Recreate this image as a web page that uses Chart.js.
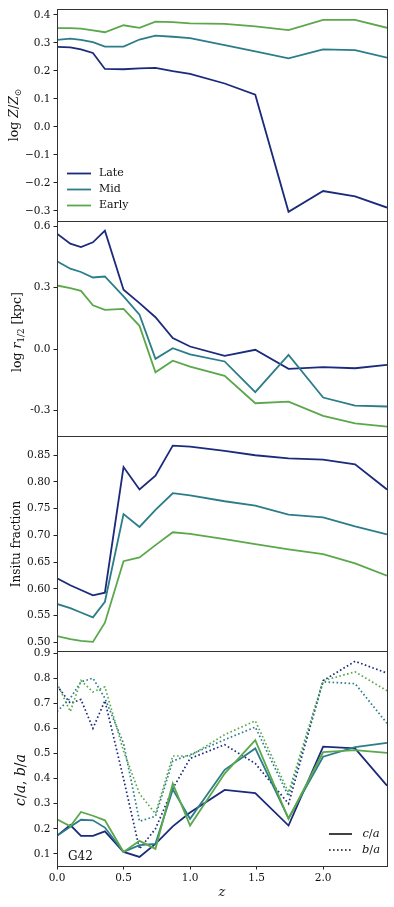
<!DOCTYPE html>
<html>
<head>
<meta charset="utf-8">
<script src="https://cdn.jsdelivr.net/npm/chart.js@4.4.1/dist/chart.umd.min.js"></script>
<style>
  body { margin: 0; background: #fff; }
  #wrap { position: relative; width: 394px; height: 907px; }
  #wrap canvas { position: absolute; left: 0; top: 0; }
</style>
</head>
<body>
<div id="wrap">
  <canvas id="p1" width="394" height="907"></canvas>
  <canvas id="p2" width="394" height="907"></canvas>
  <canvas id="p3" width="394" height="907"></canvas>
  <canvas id="p4" width="394" height="907"></canvas>
</div>
<script>
// redshift snapshots
const zSnap = [0, 0.1, 0.18, 0.27, 0.36, 0.5, 0.62, 0.74, 0.87, 1.0, 1.26, 1.49, 1.74, 2.0, 2.24, 2.48];

const groups = ["Late", "Mid", "Early"];

// log Z/Zsun
const metLate  = [0.286, 0.284, 0.277, 0.264, 0.207, 0.206, 0.209, 0.211, 0.199, 0.189, 0.155, 0.115, -0.303, -0.229, -0.248, -0.288];
const metMid   = [0.311, 0.315, 0.311, 0.303, 0.287, 0.287, 0.312, 0.326, 0.322, 0.317, 0.292, 0.270, 0.245, 0.277, 0.274, 0.247];
const metEarly = [0.353, 0.353, 0.351, 0.345, 0.338, 0.363, 0.354, 0.376, 0.374, 0.370, 0.368, 0.359, 0.346, 0.382, 0.382, 0.354];

// log r_1/2 [kpc]
const sizeLate  = [0.564, 0.515, 0.499, 0.522, 0.579, 0.290, 0.225, 0.156, 0.054, 0.013, -0.033, -0.003, -0.096, -0.088, -0.093, -0.077];
const sizeMid   = [0.429, 0.393, 0.377, 0.350, 0.355, 0.258, 0.168, -0.047, 0.005, -0.025, -0.060, -0.210, -0.028, -0.236, -0.276, -0.280];
const sizeEarly = [0.311, 0.298, 0.285, 0.214, 0.192, 0.197, 0.114, -0.113, -0.056, -0.085, -0.130, -0.264, -0.256, -0.326, -0.362, -0.378];

// insitu fraction
const insituLate  = [0.620, 0.607, 0.598, 0.588, 0.593, 0.828, 0.786, 0.812, 0.868, 0.866, 0.858, 0.850, 0.844, 0.842, 0.833, 0.786];
const insituMid   = [0.572, 0.564, 0.556, 0.547, 0.576, 0.740, 0.716, 0.748, 0.779, 0.775, 0.764, 0.756, 0.739, 0.734, 0.717, 0.702];
const insituEarly = [0.512, 0.506, 0.503, 0.501, 0.537, 0.652, 0.659, 0.682, 0.706, 0.703, 0.693, 0.684, 0.674, 0.665, 0.648, 0.625];

// shape: c/a (solid) and b/a (dotted)
const caLate  = [0.172, 0.215, 0.172, 0.172, 0.190, 0.108, 0.088, 0.140, 0.210, 0.265, 0.355, 0.342, 0.213, 0.527, 0.520, 0.372];
const caMid   = [0.172, 0.208, 0.236, 0.234, 0.205, 0.108, 0.135, 0.140, 0.357, 0.240, 0.435, 0.520, 0.242, 0.487, 0.525, 0.542];
const caEarly = [0.238, 0.210, 0.267, 0.252, 0.234, 0.108, 0.152, 0.120, 0.380, 0.213, 0.420, 0.553, 0.240, 0.505, 0.513, 0.502];
const baLate  = [0.770, 0.700, 0.715, 0.600, 0.710, 0.400, 0.120, 0.200, 0.360, 0.480, 0.535, 0.460, 0.300, 0.790, 0.867, 0.820];
const baMid   = [0.667, 0.720, 0.785, 0.800, 0.720, 0.540, 0.230, 0.250, 0.470, 0.495, 0.555, 0.605, 0.330, 0.785, 0.778, 0.620];
const baEarly = [0.780, 0.667, 0.790, 0.745, 0.765, 0.510, 0.340, 0.260, 0.490, 0.490, 0.575, 0.630, 0.345, 0.790, 0.825, 0.750];

// tick values and labels
const xTicks = [0, 0.5, 1.0, 1.5, 2.0];
const xLabels = ["0.0", "0.5", "1.0", "1.5", "2.0"];
const y1Ticks = [-0.3, -0.2, -0.1, 0, 0.1, 0.2, 0.3, 0.4];
const y1Labels = ["\u22120.3", "\u22120.2", "\u22120.1", "0.0", "0.1", "0.2", "0.3", "0.4"];
const y2Ticks = [-0.3, 0, 0.3, 0.6];
const y2Labels = ["-0.3", "0.0", "0.3", "0.6"];
const y3Ticks = [0.5, 0.55, 0.6, 0.65, 0.7, 0.75, 0.8, 0.85];
const y3Labels = ["0.50", "0.55", "0.60", "0.65", "0.70", "0.75", "0.80", "0.85"];
const y4Ticks = [0.1, 0.2, 0.3, 0.4, 0.5, 0.6, 0.7, 0.8, 0.9];
const y4Labels = ["0.1", "0.2", "0.3", "0.4", "0.5", "0.6", "0.7", "0.8", "0.9"];

const colors = ["#1b2a7b", "#2b7d89", "#5ba84b"];
const SERIF = "'DejaVu Serif', 'Liberation Serif', serif";
const INK = "#111";

function toPoints(vals) {
  return vals.map((v, i) => ({ x: zSnap[i], y: v }));
}

function lineSet(label, vals, gi, dotted) {
  return {
    label: label,
    data: toPoints(vals),
    borderColor: colors[gi],
    borderWidth: dotted ? 1.7 : 1.8,
    borderDash: dotted ? [1.6, 2.4] : [],
    pointRadius: 0,
    tension: 0,
    fill: false,
    order: 3 - gi
  };
}

// text with mixed italic / subscript pieces, centred on (x, y)
function richText(ctx, parts, x, y, size, rotate) {
  const fontOf = p => (p.it ? "italic " : "") + (p.sub ? size * 0.7 : size) + "px " + SERIF;
  ctx.save();
  ctx.translate(x, y);
  if (rotate) ctx.rotate(-Math.PI / 2);
  ctx.textBaseline = "middle";
  ctx.textAlign = "left";
  ctx.fillStyle = INK;
  let total = 0;
  const widths = parts.map(p => {
    ctx.font = fontOf(p);
    const w = ctx.measureText(p.t).width;
    total += w;
    return w;
  });
  let cx = -total / 2;
  parts.forEach((p, i) => {
    ctx.font = fontOf(p);
    ctx.fillText(p.t, cx, p.sub ? size * 0.3 : 0);
    cx += widths[i];
  });
  ctx.restore();
}

function makePanel(id, box, datasets, yRange, yTicks, yLabels, decor, showX) {
  const frame = {
    id: "frame" + id,
    afterDatasetsDraw(chart) {
      const a = chart.chartArea;
      const ctx = chart.ctx;
      ctx.save();
      ctx.strokeStyle = "#333";
      ctx.lineWidth = 1;
      ctx.strokeRect(Math.round(a.left) + 0.5, Math.round(a.top) + 0.5,
        Math.round(a.right - a.left), Math.round(a.bottom - a.top));
      ctx.restore();
      decor(chart, ctx);
    }
  };

  return new Chart(document.getElementById(id), {
    type: "line",
    data: { datasets: datasets },
    options: {
      responsive: false,
      animation: false,
      events: [],
      layout: {
        padding: { top: box[0], bottom: showX ? 0 : 907 - box[1], left: 0, right: 7 }
      },
      plugins: { legend: { display: false }, tooltip: { enabled: false } },
      scales: {
        x: {
          type: "linear",
          min: 0,
          max: 2.48,
          display: showX,
          afterFit: s => { if (showX) s.height = 907 - box[1]; },
          afterBuildTicks: s => { s.ticks = xTicks.map(v => ({ value: v })); },
          ticks: {
            callback: v => xLabels[xTicks.findIndex(t => Math.abs(t - v) < 1e-6)],
            font: { family: SERIF, size: 10.5 },
            color: INK,
            padding: 2,
            maxRotation: 0
          },
          grid: { drawOnChartArea: false, drawTicks: true, tickLength: 3.5, color: "#222" },
          border: { display: false }
        },
        y: {
          type: "linear",
          min: yRange[0],
          max: yRange[1],
          afterFit: s => { s.width = 57; },
          afterBuildTicks: s => { s.ticks = yTicks.map(v => ({ value: v })); },
          ticks: {
            callback: v => yLabels[yTicks.findIndex(t => Math.abs(t - v) < 1e-6)],
            font: { family: SERIF, size: 10.5 },
            color: INK,
            padding: 3
          },
          grid: { drawOnChartArea: false, drawTicks: true, tickLength: 3.5, color: "#222" },
          border: { display: false }
        }
      }
    },
    plugins: [frame]
  });
}

function groupLegend(ctx) {
  ctx.save();
  groups.forEach((g, i) => {
    const y = 173.5 + i * 16;
    ctx.strokeStyle = colors[i];
    ctx.lineWidth = 1.8;
    ctx.beginPath();
    ctx.moveTo(67, y);
    ctx.lineTo(91, y);
    ctx.stroke();
    ctx.fillStyle = INK;
    ctx.font = "11px " + SERIF;
    ctx.textBaseline = "middle";
    ctx.fillText(g, 99, y);
  });
  ctx.restore();
}

function shapeLegend(ctx) {
  ctx.save();
  const rows = [
    { y: 834, dash: [], parts: [{ t: "c", it: true }, { t: "/" }, { t: "a", it: true }] },
    { y: 850, dash: [1.6, 2.4], parts: [{ t: "b", it: true }, { t: "/" }, { t: "a", it: true }] }
  ];
  rows.forEach(r => {
    ctx.strokeStyle = "#111";
    ctx.lineWidth = 1.6;
    ctx.setLineDash(r.dash);
    ctx.beginPath();
    ctx.moveTo(329, r.y);
    ctx.lineTo(352, r.y);
    ctx.stroke();
    ctx.setLineDash([]);
    richText(ctx, r.parts, 371, r.y, 11.5, false);
  });
  ctx.fillStyle = INK;
  ctx.font = "12px " + SERIF;
  ctx.textBaseline = "middle";
  ctx.fillText("G42", 68, 857);
  ctx.restore();
}

makePanel("p1", [6, 221], [
  lineSet(groups[0], metLate, 0), lineSet(groups[1], metMid, 1), lineSet(groups[2], metEarly, 2)
], [-0.336, 0.42], y1Ticks, y1Labels, (chart, ctx) => {
  richText(ctx, [{ t: "log " }, { t: "Z", it: true }, { t: "/" }, { t: "Z", it: true }, { t: "\u2299", sub: true }], 15, 115, 12.5, true);
  groupLegend(ctx);
}, false);

makePanel("p2", [221, 436], [
  lineSet(groups[0], sizeLate, 0), lineSet(groups[1], sizeMid, 1), lineSet(groups[2], sizeEarly, 2)
], [-0.424, 0.626], y2Ticks, y2Labels, (chart, ctx) => {
  richText(ctx, [{ t: "log " }, { t: "r", it: true }, { t: "1/2", sub: true }, { t: " [kpc]" }], 18, 332, 12.5, true);
}, false);

makePanel("p3", [436, 651], [
  lineSet(groups[0], insituLate, 0), lineSet(groups[1], insituMid, 1), lineSet(groups[2], insituEarly, 2)
], [0.484, 0.886], y3Ticks, y3Labels, (chart, ctx) => {
  richText(ctx, [{ t: "Insitu fraction" }], 17, 544, 12, true);
}, false);

makePanel("p4", [651, 866], [
  lineSet(groups[0] + " c/a", caLate, 0), lineSet(groups[0] + " b/a", baLate, 0, true),
  lineSet(groups[1] + " c/a", caMid, 1), lineSet(groups[1] + " b/a", baMid, 1, true),
  lineSet(groups[2] + " c/a", caEarly, 2), lineSet(groups[2] + " b/a", baEarly, 2, true)
], [0.052, 0.908], y4Ticks, y4Labels, (chart, ctx) => {
  richText(ctx, [{ t: "c", it: true }, { t: "/" }, { t: "a", it: true }, { t: ", " }, { t: "b", it: true }, { t: "/" }, { t: "a", it: true }], 21, 780, 14, true);
  richText(ctx, [{ t: "z", it: true }], 222, 893, 13, false);
  shapeLegend(ctx);
}, true);
</script>
</body>
</html>
